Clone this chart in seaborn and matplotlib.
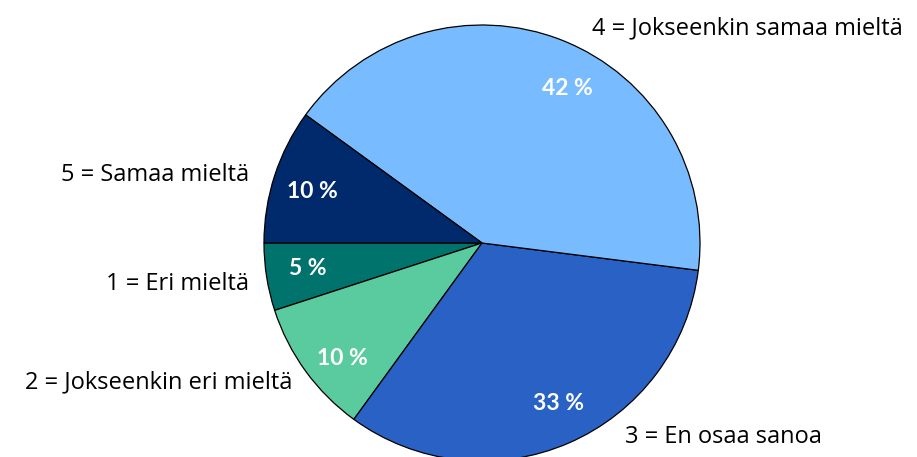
import matplotlib
matplotlib.use("Agg")
import matplotlib.pyplot as plt
import seaborn as sns

sns.set_style("white")
plt.rcParams["font.family"] = ["Open Sans", "DejaVu Sans"]

categories = ["1 = Eri mieltä", "2 = Jokseenkin eri mieltä", "3 = En osaa sanoa",
              "4 = Jokseenkin samaa mieltä", "5 = Samaa mieltä"]
shares = [5, 10, 33, 42, 10]
colors = ["#00736c", "#59cb9f", "#2962c4", "#78bcff", "#002a6b"]

# label placement (data coords, pie radius = 1)
label_pos = [(-1.07, -0.19, "right"), (-0.87, -0.64, "right"), (0.655, -0.89, "left"),
             (0.505, 0.985, "left"), (-1.07, 0.31, "right")]
pct_pos = [(-0.80, -0.115), (-0.64, -0.53), (0.35, -0.735), (0.39, 0.71), (-0.78, 0.235)]

fig = plt.figure(figsize=(9.17, 4.57), dpi=100)
cx, cy, r = 482, 243, 218
W, H = 917, 457
ax = fig.add_axes([(cx - r) / W, (H - cy - r) / H, 2 * r / W, 2 * r / H])

wedges, _ = ax.pie(shares, colors=colors, startangle=180, counterclock=True,
                   wedgeprops=dict(edgecolor="black", linewidth=0.9))
ax.set_xlim(-1, 1)
ax.set_ylim(-1, 1)
ax.set_aspect("equal")
ax.axis("off")

for (x, y, ha), name in zip(label_pos, categories):
    ax.text(x, y, name, ha=ha, va="center", fontsize=17, color="black", clip_on=False)

for (x, y), v in zip(pct_pos, shares):
    ax.text(x, y, f"{v} %", ha="center", va="center", fontsize=16.5, fontweight="bold",
            color="white", family=["Lato", "DejaVu Sans"])

fig.savefig("out.png", dpi=100)
